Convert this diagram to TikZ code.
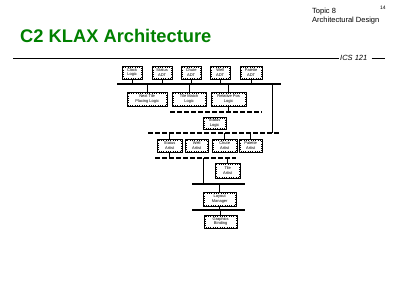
\documentclass[tikz,border=0pt]{standalone}
\usepackage{fontspec}
\setmainfont{Liberation Sans}
\definecolor{titlegreen}{RGB}{0,128,0}
\usetikzlibrary{positioning}
\tikzset{
  comp/.style={draw, line width=0.3pt, inner sep=0pt, align=center,
    font=\fontsize{4}{4.4}\selectfont, anchor=north west},
  dotin/.style={draw, dotted, line width=0.3pt},
  bus/.style={line width=2pt},
  dbus/.style={line width=2pt, dash pattern=on 5pt off 2pt},
  link/.style={line width=0.5pt},
}
\newcommand{\compbox}[6]{% name, x1, y1, x2, y2, text
  \node[comp, minimum width=#4pt-#2pt, minimum height=#5pt-#3pt] (#1) at (#2,#3) {#6};
  \draw[dotin] ([shift={(1.2pt,-1.2pt)}]#1.north west) rectangle ([shift={(-1.2pt,1.2pt)}]#1.south east);
}
\begin{document}
\begin{tikzpicture}[x=1pt,y=-1pt]
\useasboundingbox[fill=white] (0,0) rectangle (400,300);
% header
\node[anchor=west, inner sep=0pt, text=titlegreen, font=\fontsize{18.3}{20}\selectfont\bfseries] (title) at (20,36) {C2 KLAX Architecture};
\node[anchor=north west, align=left, inner sep=0pt, font=\fontsize{7.5}{8.5}\selectfont] (topic) at (312,8) {Topic 8\\Architectural Design};
\node[anchor=north west, inner sep=0pt, font=\fontsize{5}{6}\selectfont] (pg) at (380,6) {14};
\node[anchor=west, inner sep=0pt, font=\fontsize{7.5}{8}\selectfont\itshape] (ics) at (340,58) {ICS 121};
\coordinate (hl) at (13,58);
\coordinate (hr) at (385,58);
\draw[line width=0.7pt] (hl) -- ([xshift=-1pt]ics.west);
\draw[line width=0.7pt] ([xshift=4pt]ics.east) -- (hr);
% top row
\compbox{clock}{122}{66}{142}{79}{Clock\\Logic}
\compbox{stadt}{152}{66}{172}{79}{Status\\ADT}
\compbox{chadt}{181}{66}{201}{79}{Chute\\ADT}
\compbox{wadt}{210}{66}{230}{79}{Well\\ADT}
\compbox{padt}{240}{66}{262}{79}{Palette\\ADT}
\coordinate (b1l) at (117,84);
\coordinate (b1r) at (281,84);
\draw[bus] (b1l) -- (b1r);
\foreach \n in {clock,stadt,chadt,wadt,padt} \draw[link] (\n.south) -- (\n.south |- b1l);
% second row
\compbox{ntpl}{127}{92}{167}{106}{Next Tile\\Placing Logic}
\compbox{tml}{172}{92}{206}{106}{Tile Match\\Logic}
\compbox{rpl}{211}{92}{246}{106}{Relative Pos\\Logic}
\foreach \n in {ntpl,tml,rpl} \draw[link] (\n.north) -- (\n.north |- b1l);
\coordinate (b2l) at (170,112);
\coordinate (b2r) at (262,112);
\draw[dbus] (b2l) -- (b2r);
\draw[link] (rpl.south) -- (rpl.south |- b2l);
\compbox{stl}{203}{117}{226}{129}{Status\\Logic}
% right vertical and lower dashed bus
\coordinate (b3l) at (148,133);
\coordinate (b3r) at (280,133);
\draw[dbus] (b3l) -- (b3r);
\draw[link] (272,84) -- (272,133);
% artists
\compbox{sta}{157}{139}{182}{152}{Status\\Artist}
\compbox{wa}{185}{139}{208}{152}{Well\\Artist}
\compbox{cha}{212}{139}{237}{152}{Chute\\Artist}
\compbox{pa}{239}{139}{262}{152}{Palette\\Artist}
\foreach \n in {sta,cha,pa} \draw[link] (\n.north) -- (\n.north |- b3l);
\coordinate (b4l) at (155,158);
\coordinate (b4r) at (236,158);
\draw[dbus] (b4l) -- (b4r);
\draw[link] (sta.south) -- (sta.south |- b4l);
\compbox{ta}{215}{163}{240}{178}{Tile\\Artist}
\draw[link] (ta.north) -- (ta.north |- b4l);
\coordinate (b5l) at (192,184);
\coordinate (b5r) at (245,184);
\draw[bus] (b5l) -- (b5r);
\draw[link] (203,158) -- (203,184);
\compbox{lm}{203}{192}{236}{206}{Layout\\Manager}
\draw[link] (lm.north) -- (lm.north |- b5l);
\coordinate (b6l) at (192,210);
\coordinate (b6r) at (245,210);
\draw[bus] (b6l) -- (b6r);
\draw[link] (lm.south) -- (lm.south |- b6l);
\compbox{gb}{204}{215}{237}{228}{Graphics\\Binding}
\draw[link] (gb.north) -- (gb.north |- b6l);
\end{tikzpicture}
\end{document}
